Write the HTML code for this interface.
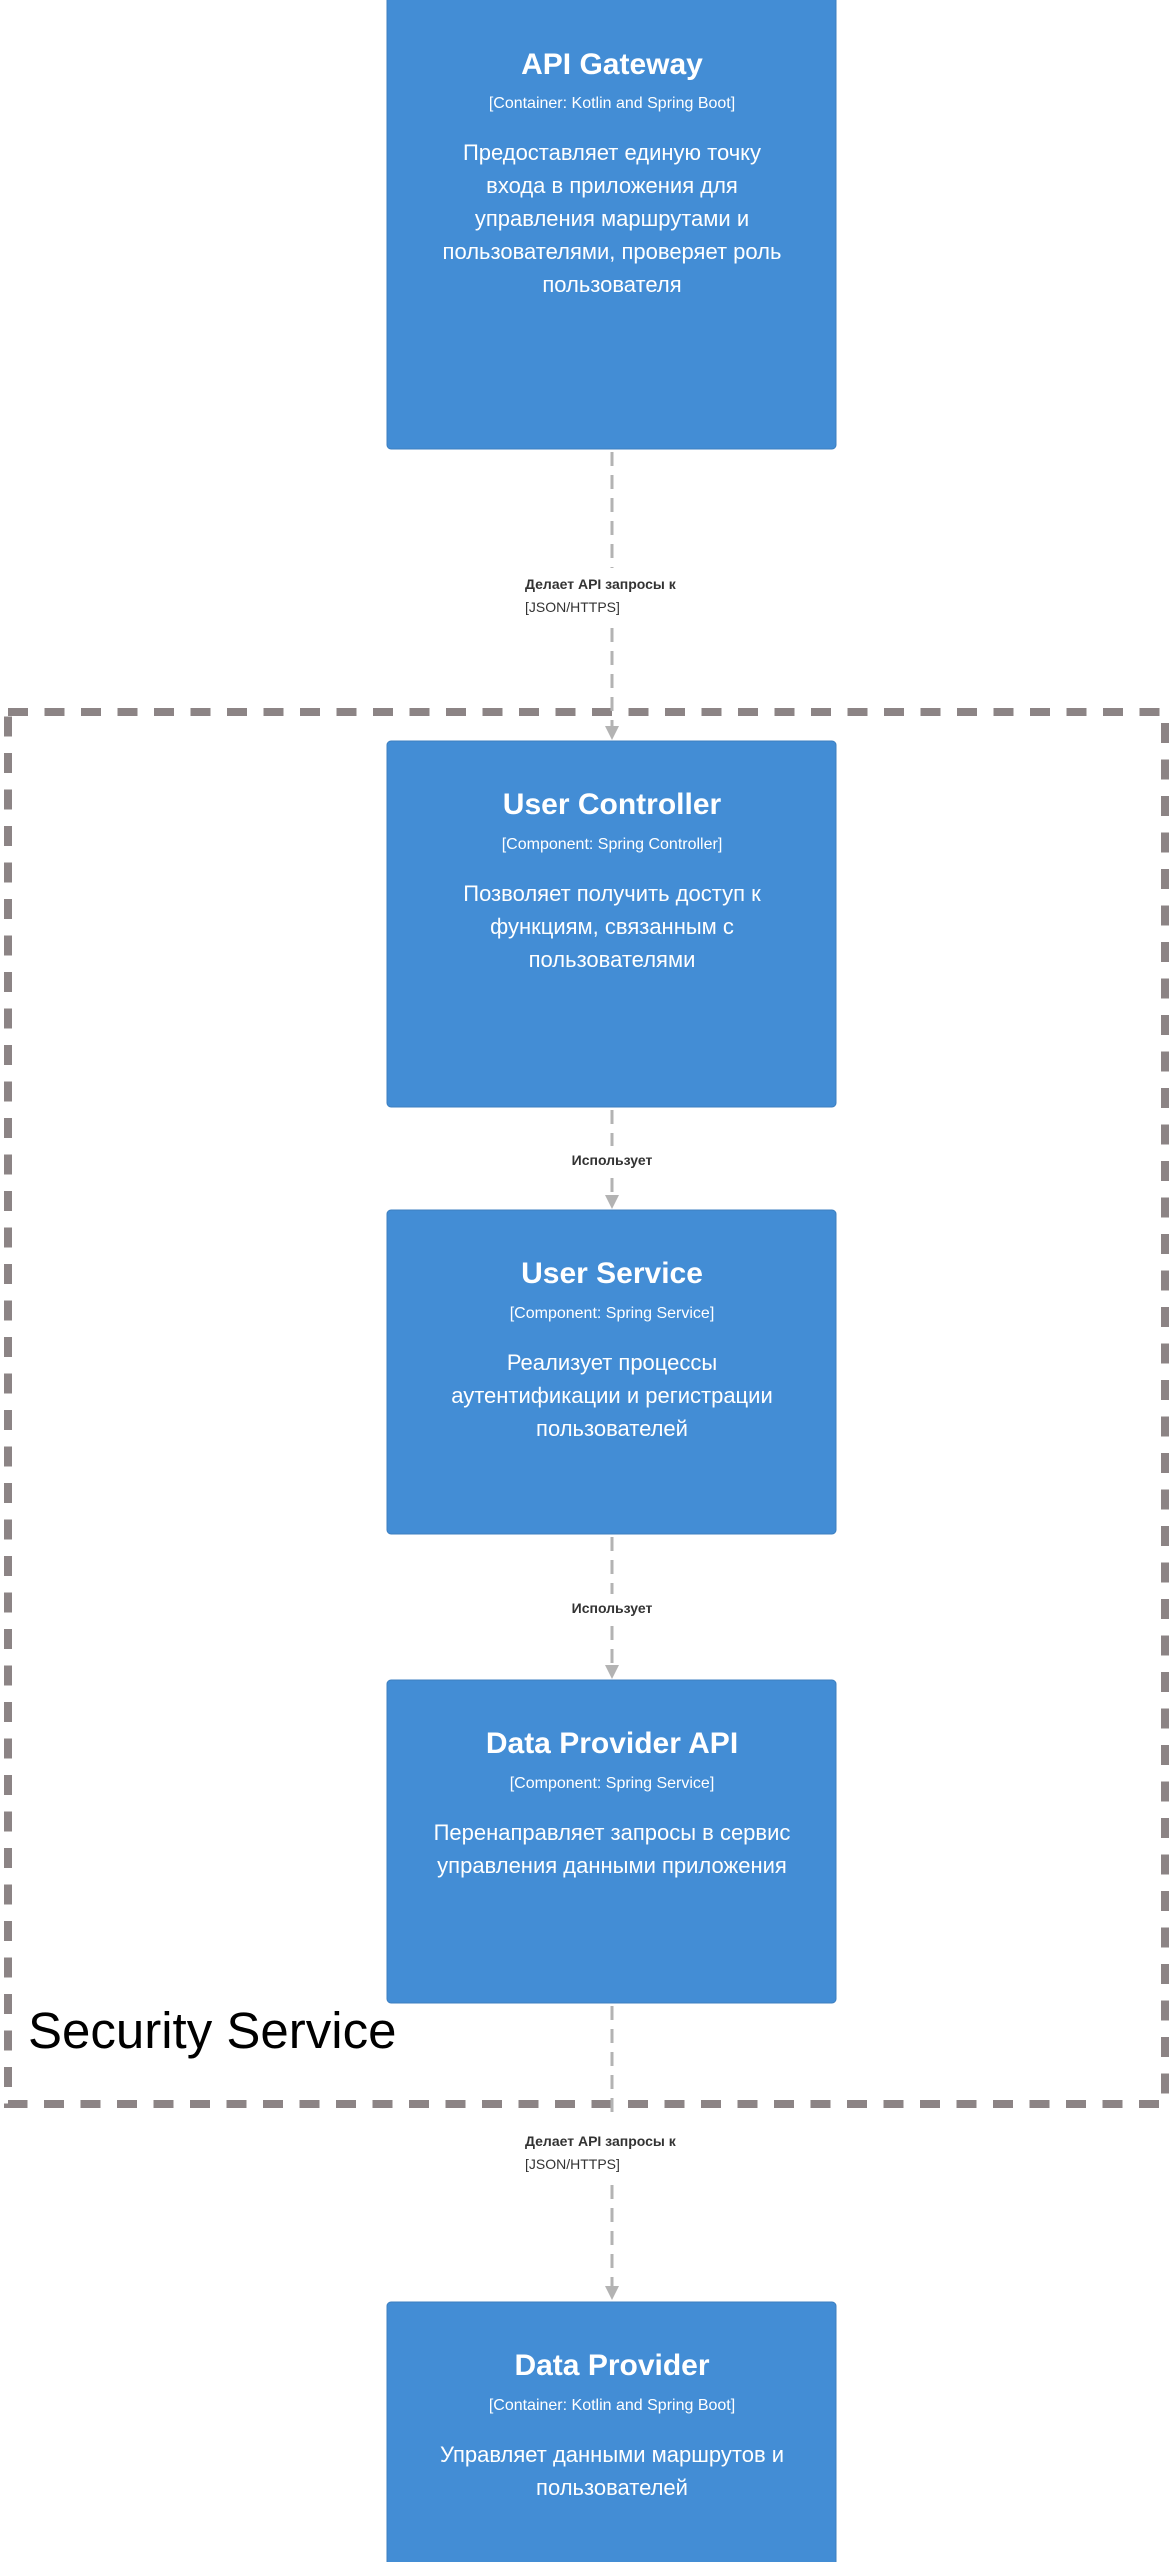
<!DOCTYPE html>
<html><head><meta charset="utf-8"><style>
html,body{margin:0;padding:0;background:#fff;}
svg{display:block;}
.t{font-family:"Liberation Sans",sans-serif;font-weight:bold;font-size:30px;fill:#fff;text-anchor:middle;}
.s{font-family:"Liberation Sans",sans-serif;font-size:16px;fill:#fff;text-anchor:middle;}
.d{font-family:"Liberation Sans",sans-serif;font-size:22px;fill:#fff;text-anchor:middle;}
.l{font-family:"Liberation Sans",sans-serif;font-size:14px;fill:#333;}
.lb{font-weight:bold;}
</style></head><body>
<svg width="1172" height="2562" viewBox="0 0 1172 2562" xmlns="http://www.w3.org/2000/svg">
<rect width="1172" height="2562" fill="#fff"/>
<!-- boundary -->
<rect x="8" y="712" width="1157" height="1392" fill="none" stroke="#8c8485" stroke-width="8" stroke-dasharray="20 16.5"/>
<text x="28" y="2048" font-family="Liberation Sans,sans-serif" font-size="51" fill="#000">Security Service</text>

<!-- connectors -->
<g stroke="#b3b3b3" stroke-width="3" stroke-dasharray="14 9" fill="none">
<line x1="612" y1="452" x2="612" y2="568"/>
<line x1="612" y1="628" x2="612" y2="726"/>
<line x1="612" y1="1110" x2="612" y2="1146"/>
<line x1="612" y1="1178" x2="612" y2="1196"/>
<line x1="612" y1="1537" x2="612" y2="1594"/>
<line x1="612" y1="1626" x2="612" y2="1666"/>
<line x1="612" y1="2006" x2="612" y2="2120"/>
<line x1="612" y1="2185" x2="612" y2="2288"/>
</g>
<g fill="#b3b3b3">
<polygon points="605,726 619,726 612,740"/>
<polygon points="605,1195 619,1195 612,1209"/>
<polygon points="605,1665 619,1665 612,1679"/>
<polygon points="605,2286 619,2286 612,2300"/>
</g>
<text class="l lb" x="525" y="589">Делает API запросы к</text>
<text class="l" x="525" y="612">[JSON/HTTPS]</text>
<text class="l lb" x="612" y="1165" text-anchor="middle">Использует</text>
<text class="l lb" x="612" y="1613" text-anchor="middle">Использует</text>
<text class="l lb" x="525" y="2146">Делает API запросы к</text>
<text class="l" x="525" y="2169">[JSON/HTTPS]</text>

<!-- boxes -->
<g fill="#438dd5" stroke="#3c7fc0" stroke-width="1">
<rect x="387" y="-6" width="449" height="455" rx="4"/>
<rect x="387" y="741" width="449" height="366" rx="4"/>
<rect x="387" y="1210" width="449" height="324" rx="4"/>
<rect x="387" y="1680" width="449" height="323" rx="4"/>
<rect x="387" y="2302" width="449" height="270" rx="4"/>
</g>

<text class="t" x="612" y="74">API Gateway</text>
<text class="s" x="612" y="108">[Container: Kotlin and Spring Boot]</text>
<text class="d" x="612" y="160">Предоставляет единую точку</text>
<text class="d" x="612" y="193">входа в приложения для</text>
<text class="d" x="612" y="226">управления маршрутами и</text>
<text class="d" x="612" y="259">пользователями, проверяет роль</text>
<text class="d" x="612" y="292">пользователя</text>

<text class="t" x="612" y="814">User Controller</text>
<text class="s" x="612" y="849">[Component: Spring Controller]</text>
<text class="d" x="612" y="901">Позволяет получить доступ к</text>
<text class="d" x="612" y="934">функциям, связанным с</text>
<text class="d" x="612" y="967">пользователями</text>

<text class="t" x="612" y="1283">User Service</text>
<text class="s" x="612" y="1318">[Component: Spring Service]</text>
<text class="d" x="612" y="1370">Реализует процессы</text>
<text class="d" x="612" y="1403">аутентификации и регистрации</text>
<text class="d" x="612" y="1436">пользователей</text>

<text class="t" x="612" y="1753">Data Provider API</text>
<text class="s" x="612" y="1788">[Component: Spring Service]</text>
<text class="d" x="612" y="1840">Перенаправляет запросы в сервис</text>
<text class="d" x="612" y="1873">управления данными приложения</text>

<text class="t" x="612" y="2375">Data Provider</text>
<text class="s" x="612" y="2410">[Container: Kotlin and Spring Boot]</text>
<text class="d" x="612" y="2462">Управляет данными маршрутов и</text>
<text class="d" x="612" y="2495">пользователей</text>
</svg>
</body></html>
